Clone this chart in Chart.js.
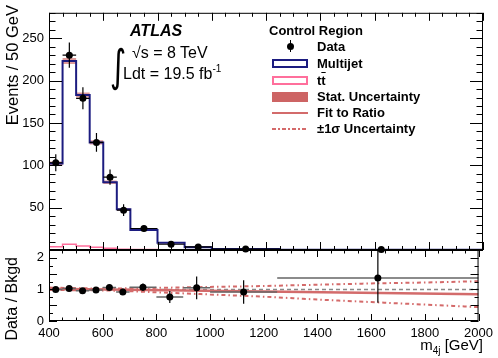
<!DOCTYPE html>
<html>
<head>
<meta charset="utf-8">
<script src="https://cdn.jsdelivr.net/npm/chart.js@4.4.0/dist/chart.umd.min.js"></script>
<style>
  body { margin: 0; background: #fff; }
  #wrap { position: relative; width: 498px; height: 358px; font-family: "Liberation Sans", Arial, sans-serif; color: #000; }
  canvas { position: absolute; left: 0; top: 0; }
  .txt { position: absolute; white-space: nowrap; line-height: 1; }
  .leg { font-size: 13px; font-weight: bold; left: 317px; }
  .sym { position: absolute; box-sizing: border-box; }
</style>
</head>
<body>
<div id="wrap">
  <canvas id="mainChart" width="498" height="358"></canvas>
  <canvas id="ratioChart" width="498" height="358"></canvas>

  <!-- ATLAS label -->
  <div class="txt" style="left:130px; top:23px; font-size:16px; font-weight:bold; font-style:italic;">ATLAS</div>
  <div class="txt" style="left:110px; top:44px; font-size:42px; font-family:'DejaVu Sans'; transform-origin:left top; transform:scale(0.75, 1.05);">&#8747;</div>
  <div class="txt" style="left:132px; top:45px; font-size:16px;">&#8730;s = 8 TeV</div>
  <div class="txt" style="left:123px; top:64px; font-size:16px;">Ldt = 19.5 fb<sup style="font-size:10px; vertical-align:7px;">-1</sup></div>

  <!-- legend -->
  <div class="txt" style="left:269px; top:24px; font-size:13px; font-weight:bold;">Control Region</div>
  <div class="sym" style="left:289.5px; top:40px; width:1px; height:12px; background:#000;"></div>
  <div class="sym" style="left:286.5px; top:42.5px; width:7px; height:7px; border-radius:50%; background:#000;"></div>
  <div class="txt leg" style="top:39.6px;">Data</div>
  <div class="sym" style="left:272px; top:58.5px; width:36px; height:9px; border:2px solid #1c1c80;"></div>
  <div class="txt leg" style="top:56.6px;">Multijet</div>
  <div class="sym" style="left:272px; top:75.5px; width:36px; height:9px; border:2px solid #ff6f9c;"></div>
  <div class="txt leg" style="top:73.6px;">t<span style="text-decoration:overline;">t</span></div>
  <div class="sym" style="left:272px; top:91.5px; width:36px; height:10px; background:#cd6464;"></div>
  <div class="txt leg" style="top:90.1px;">Stat. Uncertainty</div>
  <div class="sym" style="left:272px; top:111.5px; width:36px; height:2px; background:#d36b6b;"></div>
  <div class="txt leg" style="top:106.1px;">Fit to Ratio</div>
  <div class="sym" style="left:272px; top:127.5px; width:36px; height:2px; background:repeating-linear-gradient(to right, #d46a6a 0 4px, transparent 4px 6px, #d46a6a 6px 7.5px, transparent 7.5px 10px);"></div>
  <div class="txt leg" style="top:122.1px;">&#177;1&#963; Uncertainty</div>

  <!-- axis titles -->
  <div class="txt" style="left:4px; top:205px; width:200px; text-align:right; font-size:16.5px; transform-origin:left top; transform:rotate(-90deg);">Events / 50 GeV</div>
  <div class="txt" style="left:4px; top:457px; width:200px; text-align:right; font-size:16px; transform-origin:left top; transform:rotate(-90deg);">Data / Bkgd</div>
  <div class="txt" style="left:283px; top:337px; width:200px; text-align:right; font-size:15px;">m<sub style="font-size:10px;">4j</sub> [GeV]</div>
</div>

<script>
// bins of m4j [GeV]
const binEdges = [400, 450, 500, 550, 600, 650, 700, 800, 900, 1000, 1250, 2000];

// main panel, events / 50 GeV
const multijet = [102, 223, 183, 127, 80, 48, 23.5, 8.5, 3.3, 1.2, 0.4];
const ttbar = [3.9, 6.7, 4.7, 3.2, 2.0, 1.0, 0.6, 0.4, 0.25, 0.15, 0.08];
const statErr = [2.5, 3.5, 3, 2.5, 2, 1.5, 1, 0.6, 0.4, 0.2, 0.1];
const dataVals = [103, 230, 179, 127, 86, 47, 25.4, 6.8, 3.6, 1.1, 0.5];
const dataErr = [10, 15, 13, 11, 9, 7, 3.6, 1.8, 1.3, 0.5, 0.25];

// ratio panel
const ratioVals = [1.0, 1.03, 0.96, 0.98, 1.06, 0.92, 1.07, 0.76, 1.05, 0.92, 1.36];
const ratioErrLo = [0.05, 0.05, 0.05, 0.06, 0.07, 0.1, 0.12, 0.19, 0.36, 0.37, 0.78];
const ratioErrHi = [0.05, 0.05, 0.05, 0.06, 0.07, 0.1, 0.12, 0.19, 0.36, 0.37, 1.0];
const fitX = [400, 2000];
const fitY = [1.02, 0.85];
const unityY = [1, 1];
const sigmaX = [400, 600, 800, 1000, 1200, 1400, 1600, 1800, 2000];
const sigmaUp = [1.06, 1.03, 1.05, 1.08, 1.11, 1.15, 1.19, 1.22, 1.26];
const sigmaDown = [0.98, 0.97, 0.91, 0.84, 0.77, 0.68, 0.60, 0.52, 0.44];

// tick labels
const xTicks = [400, 600, 800, 1000, 1200, 1400, 1600, 1800, 2000];
const mainYTicks = [50, 100, 150, 200, 250];
const ratioYTicks = [0, 0.5, 1, 1.5, 2];

const FONT = { family: '"Liberation Sans", Arial, sans-serif', size: 13 };
const centers = binEdges.slice(0, -1).map((e, i) => (e + binEdges[i + 1]) / 2);

// step histogram points: left edge of every bin plus the last right edge
function histPoints(vals) {
    const pts = vals.map((v, i) => ({ x: binEdges[i], y: v }));
    pts.push({ x: binEdges[binEdges.length - 1], y: vals[vals.length - 1] });
    return pts;
}

// vertical error bars, separated by null points
function vErrPoints(vals, lo, hi) {
    const pts = [];
    vals.forEach((v, i) => {
        pts.push({ x: centers[i], y: v - lo[i] }, { x: centers[i], y: v + hi[i] }, { x: centers[i], y: null });
    });
    return pts;
}

// horizontal error bars = bin width
function hErrPoints(vals) {
    const pts = [];
    vals.forEach((v, i) => {
        pts.push({ x: binEdges[i], y: v }, { x: binEdges[i + 1], y: v }, { x: binEdges[i + 1], y: null });
    });
    return pts;
}

function xyPoints(xs, ys) {
    return xs.map((x, i) => ({ x: x, y: ys[i] }));
}

// ROOT style frame with ticks pointing inward
function makeFrame(cfg) {
    return {
        id: 'frameTicks',
        afterDatasetsDraw(chart) {
            const { ctx, chartArea: a, scales: { x, y } } = chart;
            ctx.save();
            ctx.strokeStyle = '#000';
            ctx.lineWidth = 1;
            ctx.strokeRect(a.left + 0.5, a.top + 0.5, a.right - a.left - 1, a.bottom - a.top - 1);
            ctx.beginPath();
            for (let v = x.min; v <= x.max + 1e-6; v += cfg.xMinor) {
                const px = Math.round(x.getPixelForValue(v)) + 0.5;
                const len = Math.abs(v % cfg.xMajor) < 1e-6 ? cfg.xLen[0] : cfg.xLen[1];
                ctx.moveTo(px, a.bottom); ctx.lineTo(px, a.bottom - len);
                ctx.moveTo(px, a.top); ctx.lineTo(px, a.top + len);
            }
            for (let v = cfg.yStart; v <= y.max + 1e-6; v += cfg.yMinor) {
                const py = Math.round(y.getPixelForValue(v)) + 0.5;
                const len = Math.abs(v % cfg.yMajor) < 1e-6 ? cfg.yLen[0] : cfg.yLen[1];
                ctx.moveTo(a.left, py); ctx.lineTo(a.left + len, py);
                ctx.moveTo(a.right, py); ctx.lineTo(a.right - len, py);
            }
            ctx.stroke();
            ctx.restore();
        }
    };
}

const lineBase = { pointRadius: 0, fill: false, spanGaps: false };
const plainLabel = v => String(v);

// Main panel
new Chart(document.getElementById('mainChart'), {
    type: 'line',
    data: {
        datasets: [
            { type: 'scatter', label: 'Data', data: xyPoints(centers, dataVals), pointRadius: 3.5,
              backgroundColor: '#000', borderWidth: 0, order: 0, clip: false },
            { ...lineBase, label: 'Data err y', data: vErrPoints(dataVals, dataErr, dataErr),
              borderColor: '#000', borderWidth: 1.2, order: 1 },
            { ...lineBase, label: 'Data err x', data: hErrPoints(dataVals),
              borderColor: '#000', borderWidth: 1.2, order: 1 },
            { ...lineBase, label: 'ttbar', data: histPoints(ttbar), stepped: true,
              borderColor: '#ff6f9c', borderWidth: 1.5, order: 2 },
            { ...lineBase, label: 'Multijet', data: histPoints(multijet), stepped: true,
              borderColor: '#1c1c80', borderWidth: 2, order: 3 },
            { ...lineBase, label: 'Stat low', data: histPoints(multijet.map((v, i) => v - statErr[i])), stepped: true,
              borderColor: 'transparent', borderWidth: 1, order: 5 },
            { ...lineBase, label: 'Stat. Uncertainty', data: histPoints(multijet.map((v, i) => v + statErr[i])), stepped: true,
              borderColor: 'transparent', borderWidth: 1, fill: '-1', backgroundColor: 'rgba(205, 100, 100, 0.65)', order: 4 }
        ]
    },
    options: {
        responsive: false,
        animation: false,
        events: [],
        layout: { padding: { left: 0, top: 12, right: 15, bottom: 108 } },
        plugins: { legend: { display: false }, tooltip: { enabled: false } },
        scales: {
            x: { type: 'linear', min: 400, max: 2000, display: false },
            y: {
                type: 'linear', min: 0, max: 280,
                grid: { display: false, drawTicks: false },
                border: { display: false },
                ticks: { font: FONT, color: '#000', padding: 5, callback: plainLabel },
                afterBuildTicks: s => { s.ticks = mainYTicks.map(v => ({ value: v })); },
                afterFit: s => { s.width = 49; }
            }
        }
    },
    plugins: [makeFrame({ xMinor: 50, xMajor: 200, xLen: [8, 4], yStart: 0, yMinor: 10, yMajor: 50, yLen: [13, 6.5] })]
});

// Ratio panel
new Chart(document.getElementById('ratioChart'), {
    type: 'line',
    data: {
        datasets: [
            { type: 'scatter', label: 'Ratio', data: xyPoints(centers, ratioVals), pointRadius: 3.5,
              backgroundColor: '#000', borderWidth: 0, order: 0 },
            { ...lineBase, label: 'Ratio err y', data: vErrPoints(ratioVals, ratioErrLo, ratioErrHi),
              borderColor: '#000', borderWidth: 1.2, order: 1 },
            { ...lineBase, label: 'Ratio err x', data: hErrPoints(ratioVals),
              borderColor: '#666', borderWidth: 1.5, order: 1 },
            { ...lineBase, label: 'Fit to Ratio', data: xyPoints(fitX, fitY),
              borderColor: '#d36b6b', borderWidth: 2.5, order: 2 },
            { ...lineBase, label: '+1 sigma', data: xyPoints(sigmaX, sigmaUp), cubicInterpolationMode: 'monotone',
              borderColor: '#d46a6a', borderWidth: 2, borderDash: [4, 3, 1.5, 3], order: 3 },
            { ...lineBase, label: '-1 sigma', data: xyPoints(sigmaX, sigmaDown), cubicInterpolationMode: 'monotone',
              borderColor: '#d46a6a', borderWidth: 2, borderDash: [4, 3, 1.5, 3], order: 3 },
            { ...lineBase, label: 'unity', data: xyPoints(fitX, unityY),
              borderColor: '#888', borderWidth: 1.5, borderDash: [4, 3], order: 4 }
        ]
    },
    options: {
        responsive: false,
        animation: false,
        events: [],
        layout: { padding: { left: 0, top: 250, right: 15, bottom: 0 } },
        plugins: { legend: { display: false }, tooltip: { enabled: false } },
        scales: {
            x: {
                type: 'linear', min: 400, max: 2000,
                grid: { display: false, drawTicks: false },
                border: { display: false },
                ticks: { font: FONT, color: '#000', padding: 5, autoSkip: false, maxRotation: 0, callback: plainLabel },
                afterBuildTicks: s => { s.ticks = xTicks.map(v => ({ value: v })); },
                afterFit: s => { s.height = 37; }
            },
            y: {
                type: 'linear', min: 0, max: 2.25,
                grid: { display: false, drawTicks: false },
                border: { display: false },
                ticks: { font: FONT, color: '#000', padding: 5, callback: plainLabel },
                afterBuildTicks: s => { s.ticks = ratioYTicks.map(v => ({ value: v })); },
                afterFit: s => { s.width = 49; }
            }
        }
    },
    plugins: [makeFrame({ xMinor: 50, xMajor: 200, xLen: [7, 3.5], yStart: 0, yMinor: 0.25, yMajor: 0.5, yLen: [8, 4] })]
});
</script>
</body>
</html>
